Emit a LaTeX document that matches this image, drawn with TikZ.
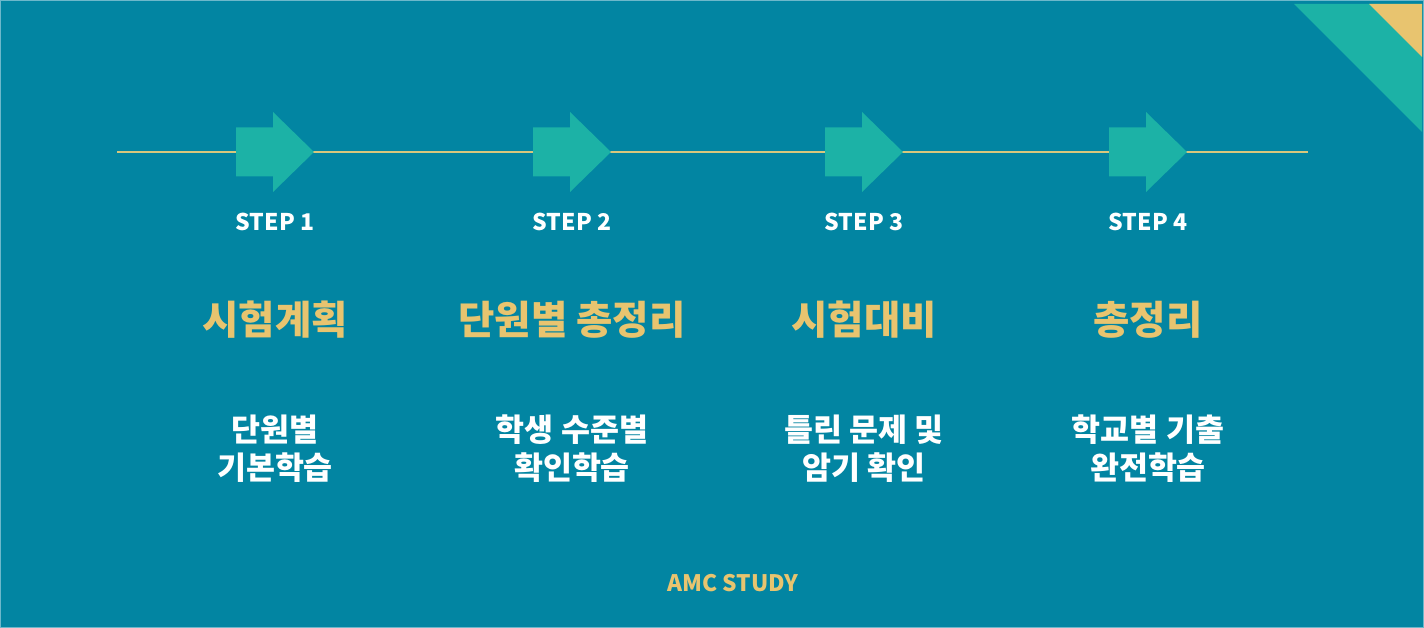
\documentclass[tikz,border=0pt]{standalone}
\usepackage{fontspec}
\newfontfamily\kr{Noto Sans CJK KR}
\definecolor{bgblue}{HTML}{0285A2}
\definecolor{edgeblue}{HTML}{6DB8CB}
\definecolor{teal}{HTML}{1CB2A6}
\definecolor{gold}{HTML}{E8C46F}
\definecolor{linegold}{HTML}{D8C77C}
\tikzset{
  steplabel/.style={text=white,font=\kr\fontsize{23}{26}\selectfont\bfseries,inner sep=0pt},
  titlelabel/.style={text=gold,font=\kr\fontsize{39.5}{44}\selectfont\bfseries,inner sep=0pt},
  bodylabel/.style={text=white,font=\kr\fontsize{31.5}{38}\selectfont\bfseries,align=center,inner sep=0pt},
  brandlabel/.style={text=gold,font=\kr\fontsize{22.7}{26}\selectfont\bfseries,inner sep=0pt},
}
\begin{document}
\begin{tikzpicture}[x=1pt,y=-1pt]
\useasboundingbox (0,0) rectangle (1424,628);
\fill[bgblue] (0,0) rectangle (1424,628);
\draw[edgeblue,line width=1.2pt] (0.6,0.6) rectangle (1423.4,627.4);
% corner triangles
\fill[teal] (1294,4) -- (1422,4) -- (1422,132) -- cycle;
\fill[gold] (1369,4) -- (1422,4) -- (1422,57) -- cycle;
% timeline
\coordinate (ls) at (117,152);
\coordinate (le) at (1308,152);
\draw[linegold,line width=2pt] (ls) -- (le);
\foreach \i/\cx in {1/275,2/572,3/864,4/1148}{
  \coordinate (a\i) at (\cx,152);
  \fill[teal] (\cx-39,127.5) -- (\cx-2,127.5) -- (\cx-2,112) -- (\cx+39,152)
     -- (\cx-2,192) -- (\cx-2,176.5) -- (\cx-39,176.5) -- cycle;
}
% labels
\node[steplabel] (s1) at (275,222) {STEP 1};
\node[steplabel] (s2) at (572,222) {STEP 2};
\node[steplabel] (s3) at (864,222) {STEP 3};
\node[steplabel] (s4) at (1148,222) {STEP 4};
\node[titlelabel] (t1) at (275,320) {시험계획};
\node[titlelabel] (t2) at (572,320) {단원별 총정리};
\node[titlelabel] (t3) at (864,320) {시험대비};
\node[titlelabel] (t4) at (1148,320) {총정리};
\node[bodylabel] (b1) at (275,449) {단원별\\기본학습};
\node[bodylabel] (b2) at (572,449) {학생 수준별\\확인학습};
\node[bodylabel] (b3) at (864,449) {틀린 문제 및\\암기 확인};
\node[bodylabel] (b4) at (1148,449) {학교별 기출\\완전학습};
\node[brandlabel] (brand) at (733,583) {AMC STUDY};
\end{tikzpicture}
\end{document}
